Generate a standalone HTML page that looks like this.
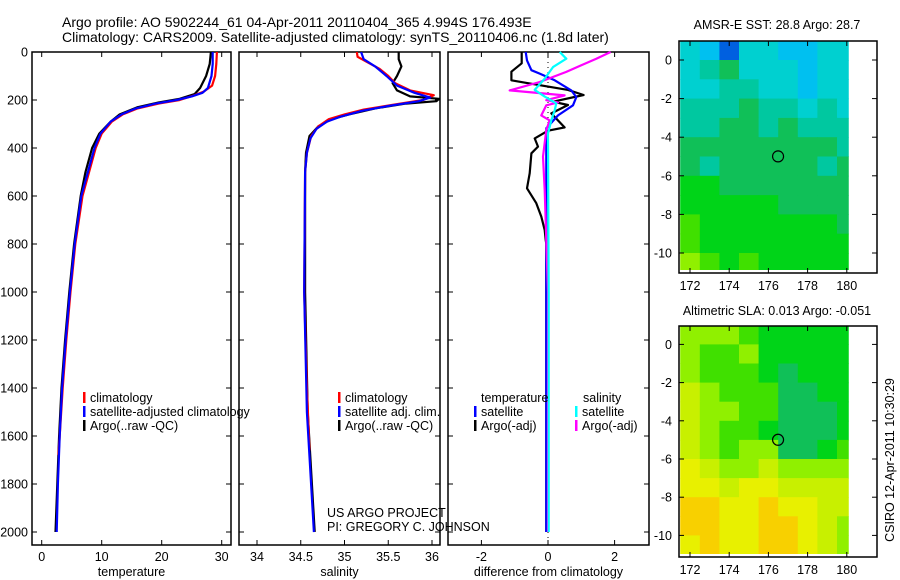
<!DOCTYPE html>
<html><head><meta charset="utf-8">
<style>
html,body{margin:0;padding:0;background:#fff;}
svg{display:block;font-family:"Liberation Sans",sans-serif;}
text{font-size:12.5px;fill:#000;}
</style></head>
<body>
<svg id="chart" width="900" height="580" viewBox="0 0 900 580">
<text x="62" y="27" style="font-size:14px">Argo profile: AO 5902244_61 04-Apr-2011 20110404_365 4.994S 176.493E</text>
<text x="62" y="42" style="font-size:14px">Climatology: CARS2009. Satellite-adjusted climatology: synTS_20110406.nc (1.8d later)</text>
<g id="g1"></g>
<g id="g2"></g>
<g id="g3"></g>
<g id="m1"></g>
<g id="m2"></g>
<text x="327" y="517">US ARGO PROJECT</text>
<text x="327" y="531">PI: GREGORY C. JOHNSON</text>
<text x="0" y="0" transform="translate(894,460) rotate(-90)" text-anchor="middle">CSIRO 12-Apr-2011 10:30:29</text>
</svg>
<script>
// ---- data ----
const depthTicks = [0,200,400,600,800,1000,1200,1400,1600,1800,2000];
const tempTicks = [0,10,20,30];
const salTicks = [34,34.5,35,35.5,36];
const diffTicks = [-2,0,2];
const tempClimDepth = [0,50,100,140,165,180,200,215,235,260,290,340,400,500,600,800,1000,1200,1400,1600,1680];
const tempClim = [29.2,29.1,28.9,28.4,27,25.5,23,19.5,16,13.5,11.7,10,9,7.9,6.8,5.6,4.8,4.1,3.5,3.0,2.8];
const tempSatDepth = [0,50,100,150,170,185,200,215,235,260,290,340,400,500,600,800,1000,1200,1400,1600,1800,2000];
const tempSat = [28.5,28.5,28.3,27.7,26.8,25,22.5,19,15.7,13.3,11.5,9.8,8.8,7.7,6.6,5.5,4.7,4.0,3.4,3.0,2.7,2.5];
const tempArgoDepth = [0,50,100,150,175,195,210,230,260,290,340,400,500,600,800,1000,1200,1400,1600,1800,2000];
const tempArgo = [28.2,28.0,27.4,26.4,25.5,23,19.5,16,13,11.5,9.6,8.4,7.3,6.5,5.4,4.6,3.9,3.3,2.9,2.6,2.3];
const salClimDepth = [0,20,40,70,100,130,160,180,200,220,240,260,280,310,350,420,500,1000,1400,1660];
const salClim = [35.14,35.15,35.25,35.4,35.5,35.58,35.75,36.02,35.9,35.55,35.22,35.0,34.82,34.7,34.62,34.57,34.55,34.54,34.57,34.6];
const salSatDepth = [0,30,60,100,140,170,190,205,225,245,270,290,320,360,420,500,1000,1500,2000];
const salSat = [35.19,35.22,35.35,35.48,35.6,35.8,35.98,35.85,35.5,35.2,34.95,34.8,34.68,34.61,34.57,34.55,34.54,34.57,34.65];
const salArgoDepth = [0,30,60,100,130,160,185,195,205,215,235,260,280,310,350,420,500,1000,1500,2000];
const salArgo = [35.62,35.62,35.65,35.6,35.55,35.6,35.75,36.08,36.05,35.7,35.35,35.05,34.85,34.7,34.6,34.56,34.55,34.55,34.58,34.66];
const dTempArgoDepth = [0,47,82,118,130,158,179,207,221,256,314,328,360,394,422,505,568,630,686,742,783,800,2000];
const dTempArgo = [-0.79,-0.79,-1.1,-1.1,-0.6,0.6,1.07,0.15,0.6,0.1,0.5,0,-0.4,-0.3,-0.5,-0.55,-0.63,-0.35,-0.2,-0.1,-0.07,-0.05,-0.05];
const dTempSatDepth = [0,35,76,90,118,160,188,222,264,318,1000,2000];
const dTempSat = [-0.67,-0.63,-0.5,-0.25,0.2,0.7,0.85,0.75,0.3,-0.05,-0.05,-0.05];
const dSalSatDepth = [0,28,63,111,158,186,214,243,285,340,1000,2000];
const dSalSat = [0.35,0.55,0.15,-0.1,-0.4,-0.1,0.25,0.2,0.1,0,0.02,0.02];
const dSalArgoDepth = [0,28,55,83,125,160,181,201,210,222,264,285,325,436,575,783,1000,2000];
const dSalArgo = [1.88,1.45,1.0,0.55,-0.25,-1.15,0.5,-0.05,0.3,-0.05,-0.2,0.05,-0.05,-0.15,-0.1,-0.05,0,0];
const latTicks = [0,-2,-4,-6,-8,-10];
const lonTicks = [172,174,176,178,180];
const cellLon = [171.5,172.5,173.5,174.5,175.5,176.5,177.5,178.5,179.5];
const cellLat = [1,0,-1,-2,-3,-4,-5,-6,-7,-8,-9,-10];
const palette = ['#0060e0','#00c0f0','#00d0d0','#00c8a0','#10c058','#00d418','#40e000','#90f000','#c8f000','#e8f000','#f8d000'];
const sstGrid = [
[2,1,0,2,2,1,1,2,2],[2,3,4,2,2,2,1,2,2],[2,2,3,3,2,2,1,2,2],[3,3,3,4,3,3,2,3,2],
[3,3,4,4,3,4,3,3,3],[4,4,4,4,4,4,4,4,3],[4,3,4,4,4,4,4,3,4],[5,5,4,4,4,4,4,4,4],
[5,5,5,5,5,4,4,4,4],[6,5,5,5,5,5,5,5,4],[6,5,5,5,5,5,5,5,5],[7,6,5,6,5,5,5,5,5]];
const slaGrid = [
[7,7,7,6,5,5,5,5,5],[7,6,6,7,5,5,5,5,5],[7,6,6,6,5,4,5,5,5],[8,7,6,6,6,4,4,5,5],
[8,7,7,6,6,4,4,4,5],[8,7,6,6,5,4,4,4,5],[8,7,6,7,7,4,4,5,6],[9,8,7,7,8,7,7,7,7],
[9,9,8,9,9,8,8,8,8],[10,10,9,9,10,9,9,8,8],[10,10,9,9,10,10,9,8,7],[9,10,9,9,10,10,9,8,7]];
const argoLon = [176.493];
const argoLat = [-4.994];

// ---- helpers ----
const NS='http://www.w3.org/2000/svg';
function mk(parent,tag,attrs){const e=document.createElementNS(NS,tag);for(const k in attrs)e.setAttribute(k,attrs[k]);parent.appendChild(e);return e;}
const yD = d => 52 + d*0.24;
function panel(g,x0,x1,xs,ticks,label,showDepth){
  const r=mk(g,'rect',{x:x0,y:52,width:x1-x0,height:493,fill:'none',stroke:'#000','stroke-width':1.5});
  
  
  depthTicks.forEach(d=>{
    const y=yD(d);
    mk(g,'line',{x1:x0,x2:x0+5,y1:y,y2:y,stroke:'#000'});
    mk(g,'line',{x1:x1-5,x2:x1,y1:y,y2:y,stroke:'#000'});
    if(showDepth){const t=mk(g,'text',{x:28,y:y+4.5,'text-anchor':'end'});t.textContent=d;
      
      }
  });
  ticks.forEach(v=>{
    const x=xs(v);
    mk(g,'line',{x1:x,x2:x,y1:52,y2:57,stroke:'#000'});
    mk(g,'line',{x1:x,x2:x,y1:540,y2:545,stroke:'#000'});
    const t=mk(g,'text',{x:x,y:561,'text-anchor':'middle'});t.textContent=v;
    
    
  });
  const t=mk(g,'text',{x:(x0+x1)/2,y:576,'text-anchor':'middle'});t.textContent=label;
  
  
}
function line(g,xs,depths,vals,color,name){
  const pts=depths.map((d,i)=>xs(vals[i]).toFixed(1)+','+yD(d).toFixed(1)).join(' ');
  const p=mk(g,'polyline',{points:pts,fill:'none',stroke:color,'stroke-width':2.2,'stroke-linejoin':'round'});
  
  
}
function legend(g,x,y,color,label){
  mk(g,'rect',{x:x,y:y-10,width:2.5,height:11,fill:color});
  const t=mk(g,'text',{x:x+7,y:y});t.textContent=label;
  
  
}

// temperature
const g1=document.getElementById('g1');
const xT = v => 41.7 + 6*v;
panel(g1,32,231,xT,tempTicks,'temperature',true);
line(g1,xT,tempArgoDepth,tempArgo,'#000','temp-argo-line');
line(g1,xT,tempClimDepth,tempClim,'#f00','temp-climatology-line');
line(g1,xT,tempSatDepth,tempSat,'#00f','temp-satellite-line');
legend(g1,83,402,'#f00','climatology');
legend(g1,83,416,'#00f','satellite-adjusted climatology');
legend(g1,83,430,'#000','Argo(..raw -QC)');

// salinity
const g2=document.getElementById('g2');
const xS = v => 257 + 87.5*(v-34);
panel(g2,239,440,xS,salTicks,'salinity',false);
const cp=mk(g2,'clipPath',{id:'c2'});mk(cp,'rect',{x:239,y:52,width:201,height:493});
const g2c=mk(g2,'g',{'clip-path':'url(#c2)'});
line(g2c,xS,salArgoDepth,salArgo,'#000','sal-argo-line');
line(g2c,xS,salClimDepth,salClim,'#f00','sal-climatology-line');
line(g2c,xS,salSatDepth,salSat,'#00f','sal-satellite-line');
legend(g2,338,402,'#f00','climatology');
legend(g2,338,416,'#00f','satellite adj. clim.');
legend(g2,338,430,'#000','Argo(..raw -QC)');

// difference
const g3=document.getElementById('g3');
const xDf = v => 548 + 33.3*v;
panel(g3,448,649,xDf,diffTicks,'difference from climatology',false);
mk(g3,'line',{x1:xDf(0),x2:xDf(0),y1:52,y2:545,stroke:'#000','stroke-dasharray':'1,4','stroke-width':1});
line(g3,xDf,dTempArgoDepth,dTempArgo,'#000','diff-temp-argo-line');
line(g3,xDf,dTempSatDepth,dTempSat,'#00f','diff-temp-satellite-line');
line(g3,xDf,dSalArgoDepth,dSalArgo,'#f0f','diff-sal-argo-line');
line(g3,xDf,dSalSatDepth,dSalSat,'#0ff','diff-sal-satellite-line');
{const t=mk(g3,'text',{x:481,y:402});t.textContent='temperature';
 
 }
{const t=mk(g3,'text',{x:583,y:402});t.textContent='salinity';
 
 }
legend(g3,474,416,'#00f','satellite');
legend(g3,474,430,'#000','Argo(-adj)');
legend(g3,575,416,'#0ff','satellite');
legend(g3,575,430,'#f0f','Argo(-adj)');

// maps
const xL = v => 690 + 19.6*(v-172);
function map(id,top,bottom,lat0y,ppd,grid,title,titleY){
  const g=document.getElementById(id);
  const yL = v => lat0y - ppd*v;
  const cpid='clip'+id;
  const c=mk(g,'clipPath',{id:cpid});mk(c,'rect',{x:679,y:top,width:xL(180.1)-679,height:bottom-3-top});
  const gc=mk(g,'g',{'clip-path':'url(#'+cpid+')'});
  grid.forEach((row,r)=>row.forEach((v,ci)=>{
    const x=xL(cellLon[ci]), y=yL(cellLat[r]);
    const rc=mk(gc,'rect',{x:x,y:y,width:19.6*1+0.5,height:ppd+0.5,fill:palette[v]});
    
    
  }));
  const ci=mk(g,'circle',{cx:xL(argoLon[0]),cy:yL(argoLat[0]),r:5.5,fill:'none',stroke:'#000','stroke-width':1.2});
  
  
  const fr=mk(g,'rect',{x:679,y:top,width:198,height:bottom-top,fill:'none',stroke:'#000','stroke-width':1.5});
  
  
  latTicks.forEach(v=>{const y=yL(v);
    mk(g,'line',{x1:679,x2:684,y1:y,y2:y,stroke:'#000'});
    mk(g,'line',{x1:872,x2:877,y1:y,y2:y,stroke:'#000'});
    const t=mk(g,'text',{x:672,y:y+4.5,'text-anchor':'end'});t.textContent=v;
    
    });
  lonTicks.forEach(v=>{const x=xL(v);
    mk(g,'line',{x1:x,x2:x,y1:top,y2:top+5,stroke:'#000'});
    mk(g,'line',{x1:x,x2:x,y1:bottom-5,y2:bottom,stroke:'#000'});
    const t=mk(g,'text',{x:x,y:bottom+17,'text-anchor':'middle'});t.textContent=v;
    
    });
  const t=mk(g,'text',{x:777,y:titleY,'text-anchor':'middle'});t.textContent=title;
  
  
}
map('m1',41,273,60,19.3,sstGrid,'AMSR-E SST: 28.8 Argo: 28.7',29);
map('m2',326,557,344.4,19.1,slaGrid,'Altimetric SLA: 0.013 Argo: -0.051',315);
</script>
</body></html>
